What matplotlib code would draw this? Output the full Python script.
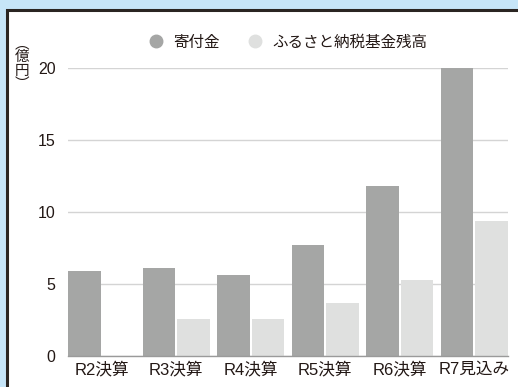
import matplotlib
matplotlib.use("Agg")
import matplotlib.pyplot as plt
from matplotlib.patches import Rectangle
from matplotlib.lines import Line2D
import numpy as np

plt.rcParams['font.family'] = ['Liberation Sans', 'Noto Sans CJK JP', 'DejaVu Sans']

# データ（億円）
years = ['R2決算', 'R3決算', 'R4決算', 'R5決算', 'R6決算', 'R7見込み']
kifu = [5.9, 6.1, 5.6, 7.7, 11.8, 20.0]
kikin = [0, 2.6, 2.6, 3.7, 5.3, 9.4]
labels = ['寄付金', 'ふるさと納税基金残高']
colors = ['#a5a6a5', '#dfe0df']
ink = '#231815'

fig = plt.figure(figsize=(5.18, 3.87), dpi=100)
fig.patch.set_facecolor('#c6e5f8')

# 白いパネル（左・上に黒枠）
W, H = 518, 387
panel = Rectangle((6.5 / W, -0.2), 1.2, 1.2 - 9.5 / H, transform=fig.transFigure,
                  facecolor='white', edgecolor='#2a2522', linewidth=2.2, zorder=0)
fig.add_artist(panel)

ax = fig.add_axes([68 / W, (H - 356) / H, 440 / W, 288 / H])
ax.set_facecolor('none')

x = np.arange(len(years))
w = 0.437
off = 0.232
ax.bar(x - off, kifu, w, color=colors[0], zorder=3)
ax.bar(x + off, kikin, w, color=colors[1], zorder=3)

ax.set_xlim(-0.45, 5.45)
ax.set_ylim(0, 20)
ax.set_yticks([0, 5, 10, 15, 20])
ax.set_xticks(x)
ax.set_xticklabels(years)
ax.tick_params(axis='both', length=0, labelsize=11.5, colors=ink)
ax.tick_params(axis='x', labelsize=12, pad=4)
ax.tick_params(axis='y', pad=9)
ax.grid(axis='y', color='#d4d4d4', linewidth=1, zorder=0)
for s in ['top', 'right', 'left']:
    ax.spines[s].set_visible(False)
ax.spines['bottom'].set_color('#9a9a9a')
ax.spines['bottom'].set_linewidth(1)
ax.spines['bottom'].set_zorder(4)

# 単位（縦書き）
fig.text(22 / W, 1 - 64 / H, '︵\n億\n円\n︶', ha='center', va='center',
         fontsize=10.5, linespacing=0.95, color=ink,
         family=['Noto Sans CJK JP', 'DejaVu Sans'])

# 凡例
handles = [Line2D([], [], marker='o', linestyle='none', markersize=9,
                  markerfacecolor=c, markeredgecolor=c) for c in colors]
fig.legend(handles, labels, loc='center', bbox_to_anchor=(284 / W, 1 - 42 / H),
           ncol=2, frameon=False, fontsize=11.2, handletextpad=0.1,
           columnspacing=1.3, labelcolor=ink)

fig.savefig('out.png', dpi=100, facecolor=fig.get_facecolor())
